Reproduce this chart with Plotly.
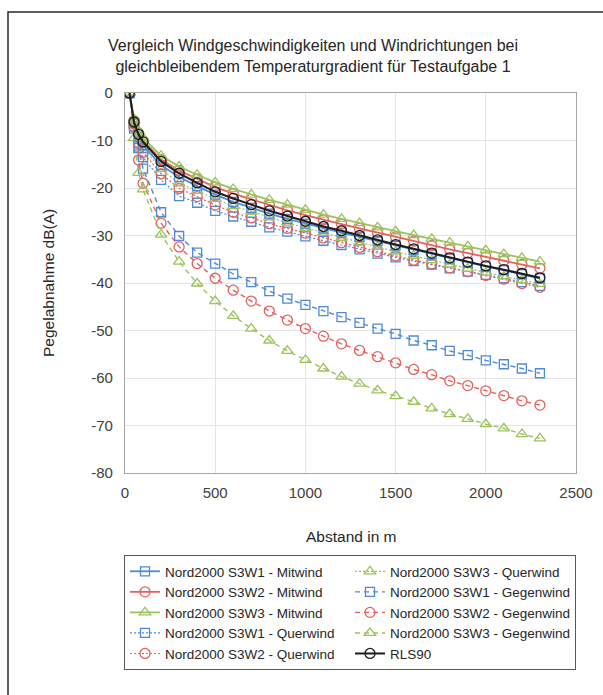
import plotly.graph_objects as go

# ---------------- data ----------------
abstand = [25, 50, 75, 100, 200, 300, 400, 500, 600, 700, 800, 900, 1000, 1100,
           1200, 1300, 1400, 1500, 1600, 1700, 1800, 1900, 2000, 2100, 2200, 2300]

s3w1_mitwind = [0, -6.3, -9.2, -11.0, -15.2, -17.7, -19.6, -21.4, -22.9, -24.2, -25.4, -26.5, -27.5,
                -28.5, -29.4, -30.3, -31.2, -32.1, -33.0, -33.9, -34.8, -35.7, -36.5, -37.3, -38.1, -39.0]
s3w2_mitwind = [0, -5.8, -8.4, -10.0, -14.0, -16.3, -18.1, -19.8, -21.2, -22.4, -23.6, -24.7, -25.7,
                -26.7, -27.6, -28.5, -29.4, -30.3, -31.2, -32.1, -32.9, -33.7, -34.5, -35.3, -36.1, -36.9]
s3w3_mitwind = [0, -5.5, -8.0, -9.5, -13.2, -15.5, -17.2, -18.8, -20.2, -21.4, -22.5, -23.5, -24.6,
                -25.6, -26.5, -27.4, -28.3, -29.1, -29.9, -30.7, -31.5, -32.3, -33.1, -33.9, -34.7, -35.5]

s3w1_querwind = [0, -7.5, -11.5, -13.5, -18.3, -21.7, -23.1, -24.8, -26.0, -27.1, -28.3, -29.2, -30.2,
                 -31.1, -32.0, -32.9, -33.8, -34.6, -35.4, -36.1, -36.9, -37.6, -38.3, -39.0, -39.8, -40.6]
s3w2_querwind = [0, -6.5, -10.5, -12.5, -17.0, -20.1, -21.8, -23.6, -25.1, -26.3, -27.5, -28.5, -29.5,
                 -30.5, -31.5, -32.5, -33.4, -34.3, -35.2, -36.0, -36.8, -37.6, -38.4, -39.2, -40.1, -40.9]
s3w3_querwind = [0, -6.0, -9.5, -11.5, -16.0, -19.0, -20.6, -22.3, -23.8, -25.0, -26.2, -27.3, -28.4,
                 -29.4, -30.5, -31.5, -32.4, -33.4, -34.3, -35.2, -36.1, -37.0, -37.8, -38.6, -39.4, -40.2]

s3w1_gegenwind = [0, -7.0, -11.6, -15.9, -25.1, -30.1, -33.6, -35.9, -38.1, -39.8, -41.7, -43.3, -44.6,
                  -45.9, -47.2, -48.4, -49.6, -50.7, -52.1, -53.1, -54.3, -55.2, -56.3, -57.1, -58.0, -59.0]
s3w2_gegenwind = [0, -7.2, -14.1, -19.0, -27.4, -32.4, -35.9, -39.0, -41.5, -43.8, -45.9, -47.8, -49.6,
                  -51.2, -52.8, -54.2, -55.5, -56.8, -58.2, -59.3, -60.6, -61.6, -62.7, -63.7, -64.8, -65.7]
s3w3_gegenwind = [0, -9.5, -16.8, -20.3, -29.8, -35.5, -40.1, -43.8, -46.9, -49.6, -52.1, -54.3, -56.2,
                  -58.0, -59.7, -61.2, -62.6, -63.8, -65.0, -66.4, -67.6, -68.6, -69.7, -70.6, -71.8, -72.7]

rls90 = [0, -6.1, -8.7, -10.3, -14.4, -16.9, -18.9, -20.8, -22.2, -23.5, -24.8, -25.9, -27.0,
         -28.1, -29.0, -30.0, -30.9, -31.9, -32.8, -33.7, -34.7, -35.6, -36.4, -37.2, -38.0, -38.9]

x_tickvals = [0, 500, 1000, 1500, 2000, 2500]
x_ticktext = ["0", "500", "1000", "1500", "2000", "2500"]
y_tickvals = [0, -10, -20, -30, -40, -50, -60, -70, -80]
y_ticktext = ["0", "-10", "-20", "-30", "-40", "-50", "-60", "-70", "-80"]

title_text = ("Vergleich Windgeschwindigkeiten und Windrichtungen bei<br>"
              "gleichbleibendem Temperaturgradient für Testaufgabe 1")

# ---------------- styles ----------------
BLUE = "#5089d8"
RED = "#e2625e"
GREEN = "#9cc35c"
BLACK = "#1c1c1c"
FONT = "Liberation Sans, Arial, sans-serif"

fig = go.Figure()

def add(name, y, color, symbol, dash, width, size, rank):
    fig.add_trace(go.Scatter(
        x=abstand, y=y, name=name, mode="lines+markers",
        line=dict(color=color, dash=dash, width=width),
        marker=dict(symbol=symbol, size=size, color=color, line=dict(color=color, width=1.3)),
        legendrank=rank,
    ))

# drawing order: Gegenwind, Querwind, Mitwind, RLS90 on top
add("Nord2000 S3W1 - Gegenwind", s3w1_gegenwind, BLUE, "square-open", "5px,4px", 1.4, 9, 4)
add("Nord2000 S3W2 - Gegenwind", s3w2_gegenwind, RED, "circle-open", "5px,4px", 1.4, 10, 6)
add("Nord2000 S3W3 - Gegenwind", s3w3_gegenwind, GREEN, "triangle-up-open", "5px,4px", 1.4, 10, 8)
add("Nord2000 S3W1 - Querwind", s3w1_querwind, BLUE, "square-open", "2px,2px", 1.2, 9, 7)
add("Nord2000 S3W2 - Querwind", s3w2_querwind, RED, "circle-open", "2px,2px", 1.2, 10, 9)
add("Nord2000 S3W3 - Querwind", s3w3_querwind, GREEN, "triangle-up-open", "2px,2px", 1.2, 10, 2)
add("Nord2000 S3W1 - Mitwind", s3w1_mitwind, BLUE, "square-open", "solid", 1.8, 9, 1)
add("Nord2000 S3W2 - Mitwind", s3w2_mitwind, RED, "circle-open", "solid", 1.8, 10, 3)
add("Nord2000 S3W3 - Mitwind", s3w3_mitwind, GREEN, "triangle-up-open", "solid", 1.8, 10, 5)
add("RLS90", rls90, BLACK, "circle-open", "solid", 2.0, 10, 10)

W, H = 603, 695
L, R, T, B = 125, 27, 93, 222
pw, ph = W - L - R, H - T - B

def px_x(px):
    return (px - L) / pw

def px_y(py):
    return (H - B - py) / ph

fig.update_layout(
    width=W, height=H,
    margin=dict(l=L, r=R, t=T, b=B, autoexpand=False),
    paper_bgcolor="white", plot_bgcolor="white",
    font=dict(family=FONT, color="#404040", size=15),
    title=dict(text=title_text, x=313 / W, xanchor="center", y=1 - 51 / H, yanchor="middle",
               font=dict(family=FONT, size=16, color="#262626")),
    xaxis=dict(range=[0, 2500], tickvals=x_tickvals, ticktext=x_ticktext,
               showgrid=True, gridcolor="#e4e4e4", gridwidth=1,
               showline=True, linecolor="#a6a6a6", linewidth=1.2, mirror=True,
               zeroline=False, ticks="", ticklabelstandoff=6,
               tickfont=dict(family=FONT, size=15, color="#404040")),
    yaxis=dict(range=[-80, 0], tickvals=y_tickvals, ticktext=y_ticktext,
               showgrid=True, gridcolor="#e4e4e4", gridwidth=1,
               showline=True, linecolor="#a6a6a6", linewidth=1.2, mirror=True,
               zeroline=False, ticks="", ticklabelstandoff=8,
               tickfont=dict(family=FONT, size=15, color="#404040")),
    legend=dict(orientation="h", x=px_x(124), xanchor="left", y=px_y(555), yanchor="top",
                entrywidth=180, entrywidthmode="pixels",
                bordercolor="#595959", borderwidth=1, bgcolor="white",
                font=dict(family=FONT, size=13.5, color="#262626"),
                traceorder="normal"),
    showlegend=True,
)

fig.add_annotation(text="Abstand in m", xref="paper", yref="paper",
                   x=0.5, y=px_y(536), xanchor="center", yanchor="middle",
                   showarrow=False, font=dict(family=FONT, size=15.5, color="#262626"))
fig.add_annotation(text="Pegelabnahme dB(A)", xref="paper", yref="paper",
                   x=px_x(48), y=0.5, xanchor="center", yanchor="middle", textangle=-90,
                   showarrow=False, font=dict(family=FONT, size=15.5, color="#262626"))

# outer chart-area border
fig.add_shape(type="rect", xref="paper", yref="paper",
              x0=px_x(8), x1=px_x(620), y0=px_y(12), y1=px_y(720),
              line=dict(color="#2a2a2a", width=1.5), fillcolor="rgba(0,0,0,0)", layer="above")

fig.write_html("out.html")
